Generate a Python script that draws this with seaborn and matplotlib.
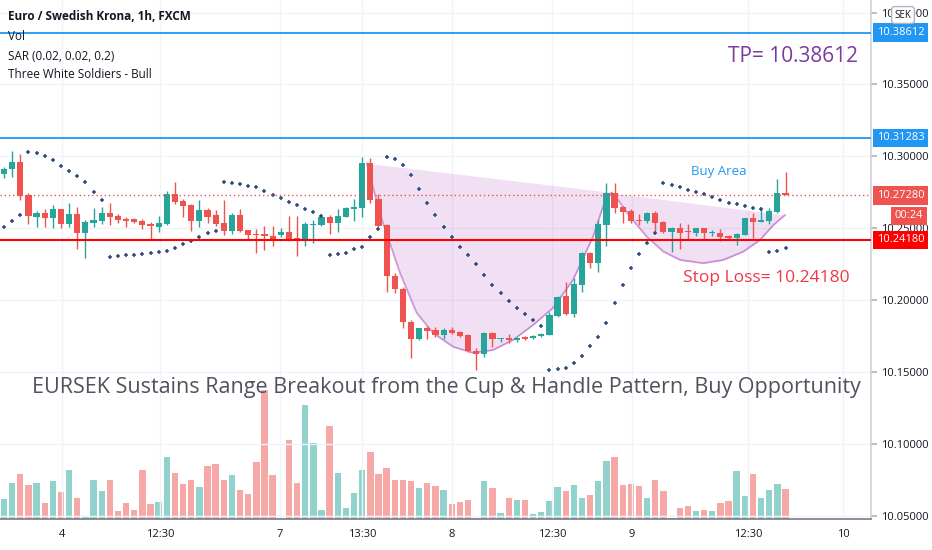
import numpy as np
import pandas as pd
import matplotlib
matplotlib.use('Agg')
import matplotlib.pyplot as plt
import matplotlib.transforms as mtransforms
import seaborn as sns

# EUR/SEK 1h candles
opens = [10.2879, 10.2910, 10.2959, 10.2731, 10.2580, 10.2604, 10.2569, 10.2632, 10.2527, 10.2597,
         10.2469, 10.2538, 10.2552, 10.2604, 10.2585, 10.2566, 10.2562, 10.2550, 10.2527, 10.2511,
         10.2527, 10.2738, 10.2689, 10.2664, 10.2552, 10.2627, 10.2590, 10.2534, 10.2483, 10.2592,
         10.2488, 10.2458, 10.2458, 10.2448, 10.2453, 10.2474, 10.2430, 10.2418, 10.2520, 10.2522,
         10.2580, 10.2538, 10.2580, 10.2636, 10.2643, 10.2952, 10.2701, 10.2520, 10.2170, 10.2079,
         10.1849, 10.1727, 10.1803, 10.1792, 10.1757, 10.1792, 10.1776, 10.1759, 10.1647, 10.1623,
         10.1769, 10.1727, 10.1738, 10.1722, 10.1741, 10.1734, 10.1750, 10.1757, 10.1891, 10.2028,
         10.1901, 10.2105, 10.2330, 10.2256, 10.2522, 10.2743, 10.2646, 10.2622, 10.2557, 10.2550,
         10.2608, 10.2545, 10.2476, 10.2504, 10.2479, 10.2469, 10.2499, 10.2465, 10.2469, 10.2446,
         10.2434, 10.2453, 10.2573, 10.2545, 10.2552, 10.2611, 10.2747]
highs = [10.2928, 10.3037, 10.3015, 10.2747, 10.2620, 10.2634, 10.2662, 10.2634, 10.2673, 10.2650,
         10.2557, 10.2639, 10.2650, 10.2673, 10.2597, 10.2576, 10.2573, 10.2562, 10.2543, 10.2585,
         10.2761, 10.2824, 10.2701, 10.2669, 10.2696, 10.2639, 10.2627, 10.2696, 10.2604, 10.2634,
         10.2490, 10.2495, 10.2515, 10.2518, 10.2504, 10.2587, 10.2585, 10.2545, 10.2557, 10.2599,
         10.2592, 10.2632, 10.2650, 10.2701, 10.2998, 10.2987, 10.2738, 10.2527, 10.2190, 10.2093,
         10.1861, 10.1808, 10.1819, 10.1810, 10.1803, 10.1810, 10.1785, 10.1764, 10.1664, 10.1778,
         10.1778, 10.1736, 10.1762, 10.1745, 10.1750, 10.1759, 10.1769, 10.1919, 10.2028, 10.2128,
         10.2151, 10.2337, 10.2332, 10.2557, 10.2813, 10.2817, 10.2655, 10.2632, 10.2599, 10.2611,
         10.2620, 10.2552, 10.2506, 10.2534, 10.2529, 10.2504, 10.2504, 10.2488, 10.2495, 10.2453,
         10.2469, 10.2573, 10.2604, 10.2646, 10.2639, 10.2843, 10.2893]
lows = [10.2847, 10.2854, 10.2696, 10.2527, 10.2511, 10.2511, 10.2499, 10.2499, 10.2511, 10.2355,
        10.2295, 10.2511, 10.2527, 10.2522, 10.2538, 10.2506, 10.2538, 10.2492, 10.2418, 10.2476,
        10.2522, 10.2669, 10.2580, 10.2483, 10.2511, 10.2534, 10.2518, 10.2453, 10.2460, 10.2472,
        10.2418, 10.2325, 10.2348, 10.2376, 10.2441, 10.2411, 10.2307, 10.2376, 10.2399, 10.2515,
        10.2460, 10.2476, 10.2580, 10.2552, 10.2580, 10.2673, 10.2506, 10.2058, 10.2047, 10.1803,
        10.1599, 10.1725, 10.1727, 10.1745, 10.1727, 10.1764, 10.1745, 10.1641, 10.1513, 10.1602,
        10.1671, 10.1710, 10.1703, 10.1710, 10.1722, 10.1729, 10.1745, 10.1755, 10.1884, 10.1896,
        10.1884, 10.2058, 10.2221, 10.2197, 10.2376, 10.2608, 10.2538, 10.2534, 10.2522, 10.2538,
        10.2481, 10.2469, 10.2337, 10.2355, 10.2418, 10.2446, 10.2418, 10.2446, 10.2413, 10.2423,
        10.2383, 10.2451, 10.2430, 10.2543, 10.2529, 10.2604, 10.2728]
closes = [10.2912, 10.2959, 10.2726, 10.2585, 10.2604, 10.2569, 10.2632, 10.2527, 10.2597, 10.2469,
          10.2541, 10.2557, 10.2604, 10.2580, 10.2557, 10.2552, 10.2545, 10.2522, 10.2515, 10.2534,
          10.2738, 10.2680, 10.2657, 10.2552, 10.2627, 10.2580, 10.2529, 10.2483, 10.2592, 10.2483,
          10.2453, 10.2451, 10.2446, 10.2418, 10.2472, 10.2418, 10.2420, 10.2527, 10.2527, 10.2580,
          10.2538, 10.2585, 10.2641, 10.2646, 10.2952, 10.2696, 10.2515, 10.2167, 10.2075, 10.1847,
          10.1727, 10.1803, 10.1787, 10.1757, 10.1792, 10.1769, 10.1752, 10.1645, 10.1623, 10.1769,
          10.1727, 10.1736, 10.1722, 10.1738, 10.1731, 10.1752, 10.1762, 10.1896, 10.2023, 10.1901,
          10.2110, 10.2330, 10.2256, 10.2527, 10.2743, 10.2643, 10.2611, 10.2552, 10.2548, 10.2608,
          10.2538, 10.2476, 10.2504, 10.2469, 10.2472, 10.2499, 10.2465, 10.2472, 10.2441, 10.2430,
          10.2458, 10.2569, 10.2545, 10.2557, 10.2620, 10.2747, 10.2728]
# parabolic SAR (0.02, 0.02, 0.2)
sar = [10.2511, 10.2550, 10.2594, 10.3033, 10.3026, 10.3003, 10.2973, 10.2935, 10.2896, 10.2866,
       10.2820, 10.2754, 10.2699, 10.2300, 10.2305, 10.2312, 10.2313, 10.2321, 10.2330, 10.2337,
       10.2344, 10.2360, 10.2388, 10.2411, 10.2441, 10.2465, 10.2483, 10.2820, 10.2813, 10.2806,
       10.2796, 10.2785, 10.2759, 10.2729, 10.2708, 10.2685, 10.2662, 10.2632, 10.2611, 10.2585,
       10.2312, 10.2321, 10.2330, 10.2353, 10.2371, 10.2441, 10.2495, 10.2994, 10.2980, 10.2942,
       10.2873, 10.2775, 10.2678, 10.2592, 10.2509, 10.2441, 10.2371, 10.2312, 10.2251, 10.2174,
       10.2105, 10.2047, 10.1996, 10.1943, 10.1903, 10.1861, 10.1819, 10.1513, 10.1518, 10.1525,
       10.1564, 10.1611, 10.1680, 10.1745, 10.1842, 10.1977, 10.2105, 10.2221, 10.2318, 10.2395,
       10.2465, 10.2813, 10.2803, 10.2789, 10.2766, 10.2750, 10.2736, 10.2719, 10.2696, 10.2678,
       10.2667, 10.2655, 10.2643, 10.2632, 10.2337, 10.2344, 10.2364]
# volume (relative units)
vol = [60, 109, 134, 102, 109, 47, 113, 80, 148, 63,
       5, 118, 83, 118, 24, 47, 28, 148, 44, 50,
       187, 138, 105, 118, 95, 158, 164, 118, 131, 86,
       76, 171, 386, 131, 3, 236, 109, 341, 227, 28,
       279, 138, 34, 79, 148, 200, 135, 154, 118, 118,
       115, 92, 109, 99, 86, 44, 50, 57, 3, 115,
       92, 17, 63, 57, 57, 14, 20, 54, 95, 83,
       102, 63, 73, 115, 174, 187, 102, 105, 99, 63,
       118, 83, 3, 34, 40, 24, 28, 24, 47, 54,
       145, 70, 135, 63, 86, 105, 89]

# cup & handle drawing (bar index, price)
cup_i = [44.56, 45.58, 46.56, 48.65, 50.70, 52.70, 55.16, 57.62, 60.07, 62.53, 64.99, 67.44, 69.90, 72.36, 73.59, 74.66]
cup_p = [10.2952, 10.2731, 10.2536, 10.2188, 10.1910, 10.1771, 10.1675, 10.1632, 10.1652, 10.1722,
         10.1826, 10.1945, 10.2140, 10.2441, 10.2650, 10.2749]
handle_i = [74.66, 75.27, 76.90, 78.96, 81.00, 83.05, 85.91, 88.37, 90.82, 92.87, 94.51, 95.95]
handle_p = [10.2745, 10.2708, 10.2580, 10.2441, 10.2337, 10.2279, 10.2256, 10.2279, 10.2337, 10.2418, 10.2522, 10.2592]

tp_level = 10.38612
r_level = 10.31283
last_price = 10.27280
sl_level = 10.24180

price_ticks = [10.05, 10.10, 10.15, 10.20, 10.25, 10.30, 10.35, 10.40]
time_ticks = [7.13, 19.2, 33.9, 44.0, 55.0, 67.3, 77.1, 91.4, 103.1]
time_labels = ['4', '12:30', '7', '13:30', '8', '12:30', '9', '12:30', '10']

df = pd.DataFrame({'open': opens, 'high': highs, 'low': lows, 'close': closes,
                   'sar': sar, 'vol': vol})
df['i'] = np.arange(len(df))
df['up'] = df['close'] >= df['open']

GREEN = '#26a69a'
RED = '#ef5350'

sns.set_theme(style='white')
plt.rcParams['font.family'] = ['Open Sans', 'DejaVu Sans']

fig = plt.figure(figsize=(9.32, 5.5), dpi=100)
ax = fig.add_axes([0, 31 / 550, 871 / 932, 519 / 550])
ax2 = ax.twinx()
ax.set_zorder(2)
ax.patch.set_visible(False)

# volume
vcol = np.where(df['up'], GREEN, RED)
ax2.bar(df['i'], df['vol'], width=0.78, color=vcol, alpha=0.5, linewidth=0)
ax2.set_ylim(0, 1557)
ax2.set_yticks([])
for s in ax2.spines.values():
    s.set_visible(False)

# cup & handle shapes
for xs, ys in [(cup_i, cup_p), (handle_i, handle_p)]:
    chord = np.interp(xs, [xs[0], xs[-1]], [ys[0], ys[-1]])
    ax.fill_between(xs, ys, chord, color='#9c27b0', alpha=0.14, linewidth=0, zorder=1)
    sns.lineplot(x=xs, y=ys, ax=ax, color='#9c27b0', alpha=0.45, lw=1.3, sort=False,
                 estimator=None, zorder=2)

# candles
ccol = np.where(df['up'], GREEN, RED)
ax.vlines(df['i'], df['low'], df['high'], colors=ccol, lw=1, zorder=3)
body_lo = np.minimum(df['open'], df['close'])
body_h = np.maximum((df['close'] - df['open']).abs(), 0.0005)
ax.bar(df['i'], body_h, bottom=body_lo, width=0.76, color=ccol, linewidth=0, zorder=4)

# SAR
sns.scatterplot(data=df, x='i', y='sar', marker='+', s=9, color='#2e4c7e',
                linewidth=1.1, ax=ax, zorder=5)

# levels
ax.axhline(tp_level, color='#2196f3', lw=1.3, zorder=6)
ax.axhline(r_level, color='#2196f3', lw=1.3, zorder=6)
ax.axhline(sl_level, color='#ff0000', lw=1.5, zorder=6)
ax.axhline(last_price, color=RED, lw=1, ls=(0, (1, 2)), zorder=6)

ax.set_xlim(-0.49, 106.5)
ax.set_ylim(10.0476, 10.4088)
ax.set_xlabel('')
ax.set_ylabel('')
ax.set_xticks(time_ticks)
ax.set_xticklabels(time_labels)
ax.set_yticks(price_ticks)
ax.set_yticklabels([f'{p:.5f}' for p in price_ticks])
ax.yaxis.tick_right()
ax.grid(True, color='#f0f3fa', lw=1)
ax.tick_params(axis='y', length=4, pad=3, labelsize=8, color='#b2b5be', labelcolor='#131722')
ax.tick_params(axis='x', length=0, pad=7, labelsize=8, labelcolor='#131722')
ax.spines['top'].set_visible(False)
ax.spines['left'].set_visible(False)
ax.spines['right'].set_color('#d1d4dc')
ax.spines['bottom'].set_color('#787b86')
ax.spines['bottom'].set_linewidth(1.2)

# price scale labels
trans = mtransforms.blended_transform_factory(ax.transAxes, ax.transData)
for lvl, col in [(tp_level, '#2196f3'), (r_level, '#2196f3'), (last_price, RED), (sl_level, '#ff0000')]:
    ax.annotate(f'{lvl:.5f}', xy=(1, lvl), xycoords=trans, xytext=(4, 0), textcoords='offset points',
                ha='left', va='center', color='white', fontsize=8, annotation_clip=False, zorder=10,
                bbox=dict(boxstyle='square,pad=0.35', fc=col, ec='none'))
fig.text(909 / 932, 1 - 216 / 550, '00:24', ha='center', va='center', color='white', fontsize=8,
         bbox=dict(boxstyle='square,pad=0.3', fc=RED, ec='none'), zorder=10)
fig.text(903 / 932, 1 - 15 / 550, 'SEK', ha='center', va='center', color='#131722', fontsize=7,
         bbox=dict(boxstyle='round,pad=0.3', fc='white', ec='#b2b5be'), zorder=10)

# header / legend text
fig.text(8 / 932, 1 - 17 / 550, 'Euro / Swedish Krona, 1h, FXCM', fontweight='bold', fontsize=8.5,
         va='center', color='#131722')
fig.text(8 / 932, 1 - 37 / 550, 'Vol', fontsize=8.5, va='center', color='#131722')
fig.text(8 / 932, 1 - 56 / 550, 'SAR (0.02, 0.02, 0.2)', fontsize=8.5, va='center', color='#131722')
fig.text(8 / 932, 1 - 75 / 550, 'Three White Soldiers - Bull', fontsize=8.5, va='center', color='#131722')

# annotations
fig.text(858 / 932, 1 - 57 / 550, 'TP= 10.38612', ha='right', va='center', fontsize=15, color='#7b3a9e')
fig.text(719 / 932, 1 - 171 / 550, 'Buy Area', ha='center', va='center', fontsize=9.5, color='#2196f3')
fig.text(766 / 932, 1 - 278 / 550, 'Stop Loss= 10.24180', ha='center', va='center', fontsize=12.5,
         color='#f23645')
fig.text(446 / 932, 1 - 387 / 550,
         'EURSEK Sustains Range Breakout from the Cup & Handle Pattern, Buy Opportunity',
         ha='center', va='center', fontsize=15.5, color='#50535e', zorder=10)

fig.savefig('out.png', dpi=100)
